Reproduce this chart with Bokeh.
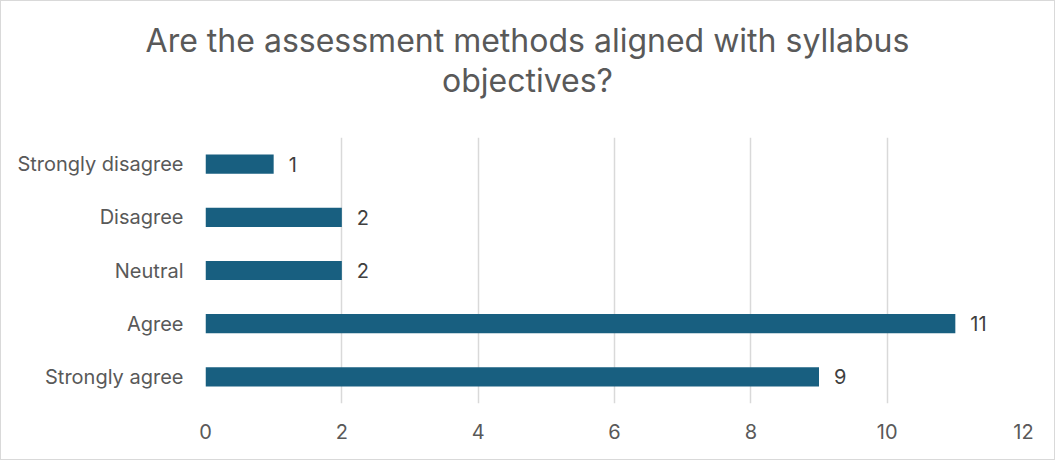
from bokeh.plotting import figure
from bokeh.layouts import column
from bokeh.models import ColumnDataSource, FactorRange, Range1d, FixedTicker, Div
from bokeh.core.properties import value
from bokeh.embed import file_html
from bokeh.resources import INLINE

categories = ["Strongly agree", "Agree", "Neutral", "Disagree", "Strongly disagree"]
counts = [9, 11, 2, 2, 1]
x_ticks = [0, 2, 4, 6, 8, 10, 12]
title_lines = ["Are the assessment methods aligned with syllabus", "objectives?"]

FONT = "Inter"
TXT = "#595959"
W = 1053
TITLE_H = 136

# ---- title (HTML block centred across the whole chart box) ----
title_html = (
    '<div style="font-family: Inter, sans-serif; font-size: 32px; line-height: 40px; '
    'color: #595959; text-align: center; padding-top: 20px; width: %dpx;">%s</div>'
    % (W, "<br>".join(title_lines))
)
tdiv = Div(text=title_html, width=W, height=TITLE_H, margin=0,
           styles={"background": "white"})

# ---- bar chart ----
src = ColumnDataSource(dict(cat=categories, val=counts, lab=[str(v) for v in counts]))

p = figure(width=W, height=458 - TITLE_H, output_backend="svg", toolbar_location=None,
           y_range=FactorRange(*categories, range_padding=0),
           x_range=Range1d(0, 12),
           min_border_left=204, min_border_right=31, min_border_top=0, min_border_bottom=56)
p.title.visible = False
p.outline_line_color = None
p.background_fill_color = "white"
p.border_fill_color = "white"

p.hbar(y="cat", right="val", left=0, height=0.36, source=src,
       fill_color="#185F80", line_color=None)
p.text(x="val", y="cat", text="lab", source=src, x_offset=15,
       text_baseline="middle", text_align="left", text_color="#404040",
       text_font=value(FONT), text_font_size="20px")

p.xaxis.ticker = FixedTicker(ticks=x_ticks)
p.xaxis.axis_line_color = None
p.xaxis.major_tick_line_color = None
p.xaxis.minor_tick_line_color = None
p.xaxis.major_label_text_font = FONT
p.xaxis.major_label_text_font_size = "20px"
p.xaxis.major_label_text_color = TXT
p.xaxis.major_label_standoff = 14

p.yaxis.axis_line_color = None
p.yaxis.major_tick_line_color = None
p.yaxis.major_tick_out = 0
p.yaxis.major_label_text_font = FONT
p.yaxis.major_label_text_font_size = "20px"
p.yaxis.major_label_text_color = TXT
p.yaxis.major_label_standoff = 22

p.ygrid.grid_line_color = None
p.xgrid.grid_line_color = "#d9d9d9"
p.xgrid.grid_line_width = 1.5

layout = column(tdiv, p, spacing=0,
                styles={"border": "1px solid #d9d9d9", "background": "white"})

open("out.html", "w").write(file_html(layout, INLINE))
